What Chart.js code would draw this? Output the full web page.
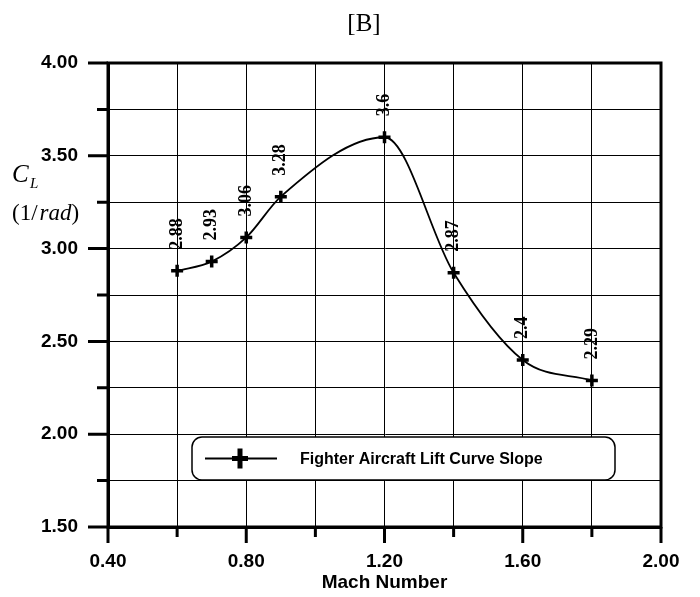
<!DOCTYPE html>
<html>
<head>
<meta charset="utf-8">
<script src="https://cdn.jsdelivr.net/npm/chart.js@4"></script>
<style>
  html, body { margin: 0; padding: 0; background: #fff; }
</style>
</head>
<body>
<canvas id="myChart" width="700" height="597"></canvas>
<script>
// data
const machNumbers = [0.6, 0.7, 0.8, 0.9, 1.2, 1.4, 1.6, 1.8];
const liftSlope = [2.88, 2.93, 3.06, 3.28, 3.6, 2.87, 2.4, 2.29];
const seriesLabel = 'Fighter Aircraft Lift Curve Slope';
const xTickLabels = ['0.40', '0.80', '1.20', '1.60', '2.00'];
const yTickLabels = ['1.50', '2.00', '2.50', '3.00', '3.50', '4.00'];

const sansBold = (size) => ({ family: 'Liberation Sans, Arial, sans-serif', size: size, weight: 'bold' });

// ticks, frame, y title, point labels and the boxed legend
const extras = {
    id: 'extras',
    afterDatasetsDraw(chart) {
        const ctx = chart.ctx;
        const meta = chart.getDatasetMeta(0);
        ctx.save();
        ctx.fillStyle = '#000';
        ctx.font = 'bold 18px "Liberation Serif", "Times New Roman", serif';
        ctx.textAlign = 'left';
        ctx.textBaseline = 'middle';
        meta.data.forEach((el, i) => {
            ctx.save();
            ctx.translate(el.x, el.y - 21);
            ctx.rotate(-Math.PI / 2);
            ctx.fillText(String(liftSlope[i]), 0, 0);
            ctx.restore();
        });
        ctx.restore();
    },
    afterDraw(chart) {
        const ctx = chart.ctx;
        const area = chart.chartArea;
        const xs = chart.scales.x;
        const ys = chart.scales.y;
        ctx.save();
        ctx.strokeStyle = '#000';
        ctx.lineWidth = 3;
        ctx.beginPath();
        xs.ticks.forEach(t => {
            const px = xs.getPixelForValue(t.value);
            const len = xTickLabels.includes(t.value.toFixed(2)) ? 16 : 10;
            ctx.moveTo(px, area.bottom);
            ctx.lineTo(px, area.bottom + len);
        });
        ys.ticks.forEach(t => {
            const py = ys.getPixelForValue(t.value);
            const len = yTickLabels.includes(t.value.toFixed(2)) ? 20 : 11;
            ctx.moveTo(area.left, py);
            ctx.lineTo(area.left - len, py);
        });
        ctx.stroke();
        ctx.strokeRect(area.left, area.top, area.right - area.left, area.bottom - area.top);

        // y axis title: C_L (1/rad)
        ctx.fillStyle = '#000';
        ctx.textAlign = 'left';
        ctx.textBaseline = 'alphabetic';
        ctx.font = 'italic 25px "Liberation Serif", serif';
        ctx.fillText('C', 12, 182);
        ctx.font = 'italic 15px "Liberation Serif", serif';
        ctx.fillText('L', 30, 188);
        let x = 12;
        ctx.font = '23px "Liberation Serif", serif';
        ctx.fillText('(1/', x, 220);
        x += ctx.measureText('(1/').width + 2;
        ctx.font = 'italic 23px "Liberation Serif", serif';
        ctx.fillText('rad', x, 220);
        x += ctx.measureText('rad').width;
        ctx.font = '23px "Liberation Serif", serif';
        ctx.fillText(')', x, 220);

        // legend box
        const bx = 192, by = 437, bw = 423, bh = 43, r = 10;
        ctx.beginPath();
        ctx.roundRect(bx, by, bw, bh, r);
        ctx.fillStyle = '#fff';
        ctx.fill();
        ctx.lineWidth = 1.5;
        ctx.stroke();
        const ly = by + bh / 2;
        ctx.lineWidth = 2;
        ctx.beginPath();
        ctx.moveTo(205, ly);
        ctx.lineTo(277, ly);
        ctx.stroke();
        ctx.lineWidth = 5;
        ctx.beginPath();
        ctx.moveTo(232, ly);
        ctx.lineTo(248, ly);
        ctx.moveTo(240, ly - 10);
        ctx.lineTo(240, ly + 10);
        ctx.stroke();
        ctx.fillStyle = '#000';
        ctx.font = 'bold 16px "Liberation Sans", Arial, sans-serif';
        ctx.textBaseline = 'middle';
        ctx.fillText(seriesLabel, 300, ly + 1);
        ctx.restore();
    }
};

const ctx = document.getElementById('myChart').getContext('2d');

new Chart(ctx, {
    type: 'line',
    data: {
        datasets: [{
            label: seriesLabel,
            data: machNumbers.map((m, i) => ({ x: m, y: liftSlope[i] })),
            borderColor: '#000',
            backgroundColor: '#000',
            borderWidth: 1.8,
            pointStyle: 'cross',
            pointRadius: 6,
            pointBorderWidth: 3.5,
            pointBorderColor: '#000',
            cubicInterpolationMode: 'monotone',
            fill: false
        }]
    },
    options: {
        responsive: false,
        animation: false,
        devicePixelRatio: 1,
        layout: {
            padding: { left: 28, right: 0, top: 0, bottom: 0 }
        },
        plugins: {
            legend: { display: false },
            tooltip: { enabled: false },
            title: {
                display: true,
                text: '[B]',
                color: '#000',
                font: { family: 'Liberation Serif, Times New Roman, serif', size: 25, weight: 'normal' },
                padding: { top: 9, bottom: 24 }
            }
        },
        scales: {
            x: {
                type: 'linear',
                min: 0.4,
                max: 2.0,
                ticks: {
                    stepSize: 0.2,
                    color: '#000',
                    font: sansBold(19),
                    padding: 7,
                    maxRotation: 0,
                    autoSkip: false,
                    callback: (v) => xTickLabels.includes(v.toFixed(2)) ? v.toFixed(2) : ''
                },
                grid: {
                    color: '#000',
                    lineWidth: 1,
                    tickLength: 16,
                    tickColor: 'transparent'
                },
                border: { color: '#000', width: 3 },
                title: {
                    display: true,
                    text: 'Mach Number',
                    color: '#000',
                    font: sansBold(19),
                    padding: { top: 0, bottom: 3 }
                },
                afterFit: (scale) => { scale.height = 70; }
            },
            y: {
                min: 1.5,
                max: 4.0,
                ticks: {
                    stepSize: 0.25,
                    color: '#000',
                    font: sansBold(19),
                    padding: 10,
                    autoSkip: false,
                    callback: (v) => yTickLabels.includes(v.toFixed(2)) ? v.toFixed(2) : ''
                },
                grid: {
                    color: '#000',
                    lineWidth: 1,
                    tickLength: 20,
                    tickColor: 'transparent'
                },
                border: { color: '#000', width: 3 },
                afterFit: (scale) => { scale.width = 80; }
            },
            // empty right-hand axis, only reserves the margin right of the frame
            yRight: {
                position: 'right',
                min: 1.5,
                max: 4.0,
                ticks: { display: false },
                grid: { drawOnChartArea: false, drawTicks: false },
                border: { display: false },
                afterFit: (scale) => { scale.width = 39; }
            }
        }
    },
    plugins: [extras]
});
</script>
</body>
</html>
